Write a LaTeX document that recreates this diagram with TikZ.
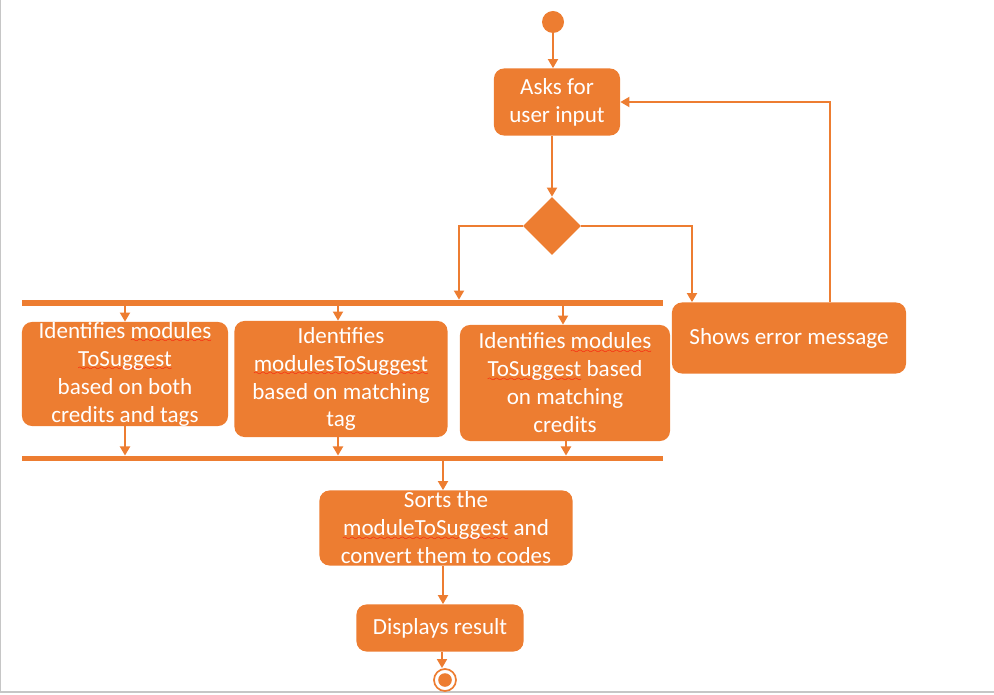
\documentclass[tikz,border=0pt]{standalone}
\usepackage{fontspec}
\setmainfont{Carlito}
\usetikzlibrary{shapes.geometric}
\usetikzlibrary{arrows.meta}
\definecolor{actorange}{HTML}{ED7D31}

% red spell-check squiggle under a word
\font\sixly=lasy6
\newsavebox\wavebox
\newcommand\redwave[1]{\sbox\wavebox{#1}%
    \rlap{\lower3.2pt\hbox to \wd\wavebox{\color{red}\sixly\xleaders\hbox{\char58}\hfill}}%
    \usebox\wavebox}

\begin{document}
\begin{tikzpicture}[x=0.025cm, y=-0.025cm,
    every node/.style={font=\fontsize{16.4}{19.9}\selectfont},
    act/.style={rectangle, rounded corners=0.25cm, fill=actorange, text=white,
        align=center, inner sep=0pt},
    bar/.style={rectangle, fill=actorange, inner sep=0pt, minimum width=16.03cm},
    flow/.style={draw=actorange, line width=2.1pt,
        -{Triangle[length=6.5pt, width=7pt]}}]

\useasboundingbox (0,0) rectangle (994,695);
% --- frame ---
\draw[gray!45, line width=1pt] (0.5,0) -- (0.5,692) -- (994,692);

% --- start and first step ---
\node[circle, fill=actorange, minimum size=0.55cm, inner sep=0pt] (start) at (553,22) {};
\node[act, minimum width=3.15cm, minimum height=1.675cm] (ask) at (557,102) {Asks for\\user input};
\node[diamond, fill=actorange, minimum width=1.45cm, minimum height=1.45cm, inner sep=0pt] (dec) at (552,226) {};

% --- fork / join bars ---
\node[bar, minimum height=0.15cm] (fork) at (342.5,303) {};
\node[bar, minimum height=0.13cm] (join) at (342.5,458.5) {};

% --- parallel steps ---
\node[act, minimum width=5.15cm, minimum height=2.6cm] (both) at (125,374)
    {Identifies \redwave{modules}\\\redwave{ToSuggest}\\based on both\\credits and tags};
\node[act, minimum width=5.325cm, minimum height=2.9cm] (tag) at (341,379)
    {Identifies\\\redwave{modulesToSuggest}\\based on matching\\tag};
\node[act, minimum width=5.25cm, minimum height=2.9cm] (cred) at (565,383)
    {Identifies \redwave{modules}\\\redwave{ToSuggest} based\\on matching\\credits};
\node[act, minimum width=5.85cm, minimum height=1.775cm] (err) at (789,338) {Shows error message};

% --- last steps ---
\node[act, minimum width=6.325cm, minimum height=1.875cm] (sorts) at (446,528)
    {Sorts the\\\redwave{moduleToSuggest} and\\convert them to codes};
\node[act, minimum width=4.175cm, minimum height=1.175cm] (show) at (440,628) {Displays result};
\node[circle, draw=actorange, line width=1.2pt, minimum size=0.55cm, inner sep=0pt] (stop) at (445,680) {};
\fill[actorange] (stop.center) circle (0.17cm);

% helper coordinates for the bends
\coordinate (forkin) at (459,0);
\coordinate (errin) at (692,0);
\coordinate (back) at (830,0);

% --- connectors ---
\draw[flow] (start) -- (ask.north -| start);
\draw[flow] (ask.south -| dec) -- (dec.north);
\draw[flow] (dec.west) -| (fork.north -| forkin);
\draw[flow] (dec.east) -| (err.north -| errin);
\draw[flow] (err.north -| back) |- (ask.east);

\draw[flow] (fork.south -| both) -- (both.north);
\draw[flow] (fork.south -| 338,0) -- (tag.north -| 338,0);
\draw[flow] (fork.south -| 563,0) -- (cred.north -| 563,0);

\draw[flow] (both.south) -- (join.north -| both);
\draw[flow] (tag.south -| 338,0) -- (join.north -| 338,0);
\draw[flow] (cred.south -| 566,0) -- (join.north -| 566,0);

\draw[flow] (join.south -| 443,0) -- (sorts.north -| 443,0);
\draw[flow] (sorts.south -| 443,0) -- (show.north -| 443,0);
\draw[flow] (show.south -| 442,0) -- (stop.north -| 442,0);

\end{tikzpicture}
\end{document}
